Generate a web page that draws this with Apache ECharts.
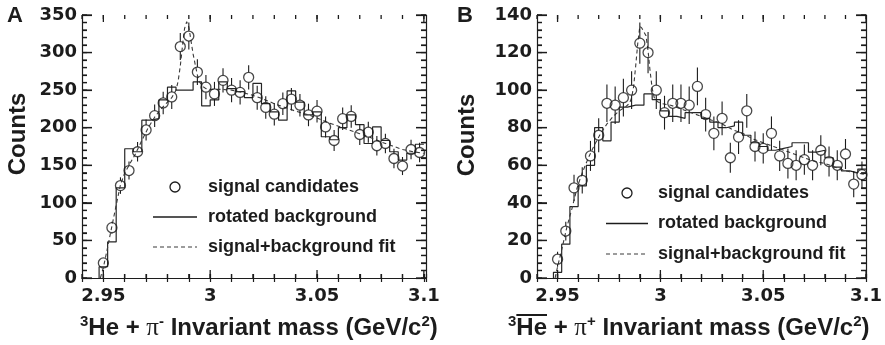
<!DOCTYPE html>
<html>
<head>
<meta charset="utf-8">
<title>Invariant mass spectra</title>
<script src="https://cdn.jsdelivr.net/npm/echarts@6.0.0/dist/echarts.min.js"></script>
<style>
html, body { margin: 0; padding: 0; background: #ffffff; }
#chart { width: 885px; height: 345px; background: #ffffff; }
</style>
</head>
<body>
<div id="chart"></div>
<script>
// Bin centres of both invariant-mass histograms (GeV/c^2)
const massBins = [2.950, 2.954, 2.958, 2.962, 2.966, 2.970, 2.974, 2.978, 2.982, 2.986,
                  2.990, 2.994, 2.998, 3.002, 3.006, 3.010, 3.014, 3.018, 3.022, 3.026,
                  3.030, 3.034, 3.038, 3.042, 3.046, 3.050, 3.054, 3.058, 3.062, 3.066,
                  3.070, 3.074, 3.078, 3.082, 3.086, 3.090, 3.094, 3.098];

// Panel A: 3He + pi-
const candidatesA = [20, 67, 123, 143, 168, 197, 216, 233, 241, 308,
                     322, 274, 254, 245, 263, 250, 247, 267, 240, 227,
                     218, 232, 238, 230, 217, 222, 201, 183, 212, 215,
                     191, 194, 176, 179, 159, 149, 171, 167];
const candidateErrA = [5, 8, 11, 12, 13, 14, 15, 15, 16, 18,
                       18, 17, 16, 16, 16, 16, 16, 16, 16, 15,
                       15, 15, 15, 15, 15, 15, 14, 14, 15, 15,
                       14, 14, 13, 13, 13, 12, 13, 13];
const rotatedBkgA = [15, 48, 120, 172, 168, 210, 212, 237, 254, 250,
                     250, 261, 229, 237, 261, 252, 248, 240, 259, 232,
                     221, 210, 249, 234, 217, 221, 188, 184, 200, 217,
                     204, 179, 201, 183, 168, 157, 166, 178];
const fitMassA = [2.9486, 2.9500, 2.9515, 2.9530, 2.9545, 2.9560, 2.9580, 2.9600, 2.9620, 2.9650,
                  2.9680, 2.9710, 2.9740, 2.9770, 2.9800, 2.9820, 2.9840, 2.9850, 2.9860, 2.9870,
                  2.9880, 2.9890, 2.9900, 2.9910, 2.9920, 2.9930, 2.9940, 2.9950, 2.9965, 2.9980,
                  3.0000, 3.0050, 3.0100, 3.0150, 3.0200, 3.0250, 3.0300, 3.0350, 3.0400, 3.0450,
                  3.0500, 3.0550, 3.0600, 3.0650, 3.0700, 3.0750, 3.0800, 3.0850, 3.0900, 3.0950,
                  3.1000];
const fitCountsA = [0, 14, 34, 55, 76, 97, 124, 140, 150, 165,
                    183, 200, 214, 225, 234, 240, 250, 262, 282, 308,
                    332, 341, 334, 316, 298, 284, 270, 261, 255, 252,
                    251, 251, 250, 247, 243, 238, 232, 227, 222, 218,
                    213, 207, 202, 197, 192, 187, 181, 176, 171, 168,
                    166];

// Panel B: anti-3He + pi+
const candidatesB = [10, 25, 48, 52, 65, 76, 93, 92, 96, 100,
                     125, 120, 100, 88, 93, 93, 92, 102, 87, 77,
                     85, 64, 75, 89, 70, 69, 77, 65, 61, 60,
                     63, 60, 68, 62, 60, 66, 50, 55];
const candidateErrB = [4, 5, 7, 7, 8, 9, 10, 10, 10, 10,
                       11, 11, 10, 9, 10, 10, 10, 10, 9, 9,
                       9, 8, 9, 9, 8, 8, 9, 8, 8, 8,
                       8, 8, 8, 8, 8, 8, 7, 7];
const rotatedBkgB = [3, 18, 38, 49, 60, 80, 73, 83, 91, 92,
                     92, 98, 95, 89, 86, 85, 88, 88, 85, 83,
                     80, 81, 83, 76, 72, 70, 68, 69, 70, 72,
                     72, 67, 68, 64, 59, 57, 56, 58];
const fitMassB = [2.9488, 2.9500, 2.9520, 2.9545, 2.9570, 2.9595, 2.9620, 2.9650, 2.9680, 2.9710,
                  2.9740, 2.9770, 2.9800, 2.9830, 2.9850, 2.9860, 2.9870, 2.9880, 2.9890, 2.9900,
                  2.9910, 2.9920, 2.9930, 2.9940, 2.9950, 2.9960, 2.9970, 2.9985, 3.0000, 3.0050,
                  3.0100, 3.0150, 3.0200, 3.0250, 3.0300, 3.0350, 3.0400, 3.0450, 3.0500, 3.0550,
                  3.0600, 3.0650, 3.0700, 3.0750, 3.0800, 3.0850, 3.0900, 3.0950, 3.1000];
const fitCountsB = [0, 6, 15, 27, 37, 48, 56, 64, 71, 77,
                    82, 86, 89, 91, 93, 96, 102, 113, 125, 134,
                    133, 131, 129, 121, 110, 101, 96, 94, 93, 92,
                    90, 88, 86, 84, 82, 79, 77, 74, 72, 70,
                    68, 66, 64, 62, 61, 59, 57, 56, 55];

// Axis ticks: labelled (major) and unlabelled (minor) positions
const massTicks = [2.95, 3, 3.05, 3.1];
const massMinorTicks = [2.94, 2.95, 2.96, 2.97, 2.98, 2.99, 3.00, 3.01, 3.02,
                        3.03, 3.04, 3.05, 3.06, 3.07, 3.08, 3.09, 3.10];
const countTicksA = [0, 50, 100, 150, 200, 250, 300, 350];
const countMinorTicksA = [0, 10, 20, 30, 40, 50, 60, 70, 80, 90, 100, 110, 120, 130, 140, 150, 160, 170,
                          180, 190, 200, 210, 220, 230, 240, 250, 260, 270, 280, 290, 300, 310, 320, 330, 340, 350];
const countTicksB = [0, 20, 40, 60, 80, 100, 120, 140];
const countMinorTicksB = [0, 4, 8, 12, 16, 20, 24, 28, 32, 36, 40, 44, 48, 52, 56, 60, 64, 68,
                          72, 76, 80, 84, 88, 92, 96, 100, 104, 108, 112, 116, 120, 124, 128, 132, 136, 140];

const legendLabels = ['signal candidates', 'rotated background', 'signal+background fit'];

const ink = '#1c1c1c';
const tickFont = { fontFamily: 'DejaVu Sans', fontWeight: 'bold', fontSize: 18, color: ink };
const titleFamily = '"Liberation Sans", Arial, sans-serif';

function binEdges(centres) {
  const n = centres.length;
  const e = [centres[0] - (centres[1] - centres[0]) / 2];
  for (let i = 1; i < n; i++) e.push((centres[i - 1] + centres[i]) / 2);
  e.push(centres[n - 1] + (centres[n - 1] - centres[n - 2]) / 2);
  return e;
}
function stepData(centres, counts) {
  const e = binEdges(centres);
  const d = [[e[0], 0]];
  counts.forEach((c, i) => d.push([e[i + 1], c]));
  return d;
}
function pairs(xs, ys) { return xs.map((x, i) => [x, ys[i]]); }
function triples(xs, ys, es) { return xs.map((x, i) => [x, ys[i], es[i]]); }

function massLabel(v) {
  const t = massTicks.find(m => Math.abs(m - v) < 1e-6);
  return t === undefined ? '' : String(t);
}

// Frame axes: bottom/left carry the labels and the inward minor ticks, top/right close the frame
function panelAxes(g, xMax, countTicks) {
  const yMax = countTicks[countTicks.length - 1];
  const yStep = countTicks[1] - countTicks[0];
  const line = { show: true, lineStyle: { color: ink, width: 1.2 } };
  const tick = (len) => ({ show: true, inside: true, length: len, lineStyle: { color: ink, width: 1.2 } });
  const xbase = { gridIndex: g, type: 'value', min: 2.94, max: xMax, interval: 0.01,
                  splitLine: { show: false }, axisLine: line, axisTick: tick(4) };
  const ybase = { gridIndex: g, type: 'value', min: 0, max: yMax, interval: yStep,
                  splitLine: { show: false }, axisLine: line, axisTick: tick(10),
                  minorTick: { show: true, splitNumber: 5, length: 5, lineStyle: { color: ink, width: 1.2 } } };
  return {
    xs: [
      Object.assign({}, xbase, { position: 'bottom',
        axisLabel: Object.assign({ show: true, margin: 9, formatter: massLabel, hideOverlap: false }, tickFont) }),
      Object.assign({}, xbase, { position: 'top', axisLabel: { show: false } })
    ],
    ys: [
      Object.assign({}, ybase, { position: 'left', axisLabel: Object.assign({ show: true, margin: 5 }, tickFont) }),
      Object.assign({}, ybase, { position: 'right', axisLabel: { show: false } })
    ]
  };
}

const axA = panelAxes(0, 3.101, countTicksA);
const axB = panelAxes(1, 3.1, countTicksB);

function errorBars(xIdx, yIdx, data) {
  return {
    type: 'custom', xAxisIndex: xIdx, yAxisIndex: yIdx, data: data, z: 3, silent: true,
    renderItem: function (params, api) {
      const x = api.value(0), y = api.value(1), e = api.value(2);
      const c = api.coord([x, y]);
      const top = api.coord([x, y + e]);
      const bot = api.coord([x, y - e]);
      const r = 5;
      const kids = [];
      const st = { stroke: ink, lineWidth: 1.1 };
      if (top[1] < c[1] - r) kids.push({ type: 'line', shape: { x1: c[0], y1: top[1], x2: c[0], y2: c[1] - r }, style: st });
      if (bot[1] > c[1] + r) kids.push({ type: 'line', shape: { x1: c[0], y1: c[1] + r, x2: c[0], y2: bot[1] }, style: st });
      return { type: 'group', children: kids };
    }
  };
}

function panelSeries(xIdx, yIdx, cand, err, bkg, fitX, fitY) {
  return [
    {
      name: legendLabels[1], type: 'line', xAxisIndex: xIdx, yAxisIndex: yIdx,
      data: stepData(massBins, bkg), step: 'start', showSymbol: false, symbol: 'none',
      lineStyle: { color: '#262626', width: 1.2 }, z: 2, silent: true
    },
    {
      name: legendLabels[2], type: 'line', xAxisIndex: xIdx, yAxisIndex: yIdx,
      data: pairs(fitX, fitY), showSymbol: false, symbol: 'none',
      lineStyle: { color: '#3a3a3a', width: 1.1, type: [4, 3] }, z: 2, silent: true
    },
    errorBars(xIdx, yIdx, triples(massBins, cand, err)),
    {
      name: legendLabels[0], type: 'scatter', xAxisIndex: xIdx, yAxisIndex: yIdx,
      data: pairs(massBins, cand), symbol: 'circle', symbolSize: 10,
      itemStyle: { color: 'rgba(255,255,255,0)', borderColor: ink, borderWidth: 1.3 }, z: 4, silent: true
    }
  ];
}

// Legend block drawn with graphic primitives
function legendBlock(mx, lx1, lx2, tx, y0, dy) {
  const txt = (y, s) => ({
    type: 'text', x: tx, y: y,
    style: { text: s, font: 'bold 18px ' + titleFamily, fill: ink, textAlign: 'left', textVerticalAlign: 'middle' }
  });
  return [
    { type: 'circle', shape: { cx: mx, cy: y0, r: 5 }, style: { fill: 'none', stroke: ink, lineWidth: 1.3 } },
    txt(y0, legendLabels[0]),
    { type: 'line', shape: { x1: lx1, y1: y0 + dy, x2: lx2, y2: y0 + dy }, style: { stroke: ink, lineWidth: 1.3 } },
    txt(y0 + dy, legendLabels[1]),
    { type: 'line', shape: { x1: lx1, y1: y0 + 2 * dy, x2: lx2, y2: y0 + 2 * dy }, style: { stroke: '#3a3a3a', lineWidth: 1.1, lineDash: [4, 3] } },
    txt(y0 + 2 * dy, legendLabels[2])
  ];
}

const richTitle = {
  s: { fontSize: 15, fontWeight: 'bold', fontFamily: titleFamily, verticalAlign: 'top', lineHeight: 15 },
  p: { fontSize: 25, fontFamily: '"Liberation Serif", serif', lineHeight: 28 },
  m: { fontSize: 24, fontWeight: 'bold', fontFamily: titleFamily, lineHeight: 28 }
};
function axisTitle(x, y, text) {
  return {
    type: 'text', x: x, y: y,
    style: { text: text, rich: richTitle, font: 'bold 24px ' + titleFamily, fill: ink, textAlign: 'left', textVerticalAlign: 'middle' }
  };
}
function countsTitle(x, y) {
  return {
    type: 'text', x: x, y: y, rotation: Math.PI / 2,
    style: { text: 'Counts', font: 'bold 24px ' + titleFamily, fill: ink, textAlign: 'center', textVerticalAlign: 'middle' }
  };
}
function panelLetter(x, y, s) {
  return {
    type: 'text', x: x, y: y,
    style: { text: s, font: 'bold 22px ' + titleFamily, fill: ink, textAlign: 'center', textVerticalAlign: 'middle' }
  };
}

// Width of the superscript 3 and of "He" for the bar over the antinucleus
const measureCtx = document.createElement('canvas').getContext('2d');
measureCtx.font = 'bold 15px ' + titleFamily;
const supW = measureCtx.measureText('3').width;
measureCtx.font = 'bold 24px ' + titleFamily;
const heW = measureCtx.measureText('He').width;

const titleAx = 80, titleBx = 508, titleY = 328;

const chart = echarts.init(document.getElementById('chart'), null, { renderer: 'canvas', width: 885, height: 345 });
chart.setOption({
  animation: false,
  grid: [
    { left: 82, top: 15, width: 344, height: 263 },
    { left: 537, top: 15, width: 330, height: 263 }
  ],
  xAxis: axA.xs.concat(axB.xs),
  yAxis: axA.ys.concat(axB.ys),
  series: panelSeries(0, 0, candidatesA, candidateErrA, rotatedBkgA, fitMassA, fitCountsA)
    .concat(panelSeries(2, 2, candidatesB, candidateErrB, rotatedBkgB, fitMassB, fitCountsB))
});

// Inward tick marks on all four sides of a frame, positioned through the axis scales,
// kept on their own layer above the plotted marks
function frameTicks(g, xMin, xMax, yMax, massMinor, massMajor, countMinor, countMajor) {
  const toPx = (x, y) => chart.convertToPixel({ gridIndex: g }, [x, y]);
  const bl = toPx(xMin, 0), tr = toPx(xMax, yMax);
  const left = bl[0], bottom = bl[1], right = tr[0], top = tr[1];
  const st = { stroke: ink, lineWidth: 1.3 };
  const out = [];
  const seg = (x1, y1, x2, y2) => out.push({ type: 'line', silent: true, zlevel: 1, z: 100,
    shape: { x1: x1, y1: y1, x2: x2, y2: y2 }, style: st });
  const vTick = (v, lb, lt) => {
    const px = toPx(v, 0)[0];
    seg(px, bottom, px, bottom - lb);
    seg(px, top, px, top + lt);
  };
  const hTick = (v, l) => {
    const py = toPx(xMin, v)[1];
    seg(left, py, left + l, py);
    seg(right, py, right - l, py);
  };
  massMinor.forEach(v => vTick(v, 4, 4));
  massMajor.forEach(v => vTick(v, 8, 7));
  countMinor.forEach(v => hTick(v, 5));
  countMajor.forEach(v => hTick(v, 10));
  return out;
}

chart.setOption({
  graphic: [].concat(
    frameTicks(0, 2.94, 3.101, 350, massMinorTicks, massTicks, countMinorTicksA, countTicksA),
    frameTicks(1, 2.94, 3.1, 140, massMinorTicks, massTicks, countMinorTicksB, countTicksB),
    legendBlock(175, 153, 197, 208, 187, 30),
    legendBlock(627, 606, 648, 658, 193, 30.5),
    [
      axisTitle(titleAx, titleY, '{s|3}{m|He + }{p|π}{s|-}{m| Invariant mass (GeV/c}{s|2}{m|)}'),
      axisTitle(titleBx, titleY, '{s|3}{m|He + }{p|π}{s|+}{m| Invariant mass (GeV/c}{s|2}{m|)}'),
      { type: 'line', shape: { x1: titleBx + supW, y1: 315, x2: titleBx + supW + heW, y2: 315 }, style: { stroke: ink, lineWidth: 2 } },
      countsTitle(18, 134),
      countsTitle(467, 135),
      panelLetter(15, 16, 'A'),
      panelLetter(465, 16, 'B')
    ]
  )
});
</script>
</body>
</html>
